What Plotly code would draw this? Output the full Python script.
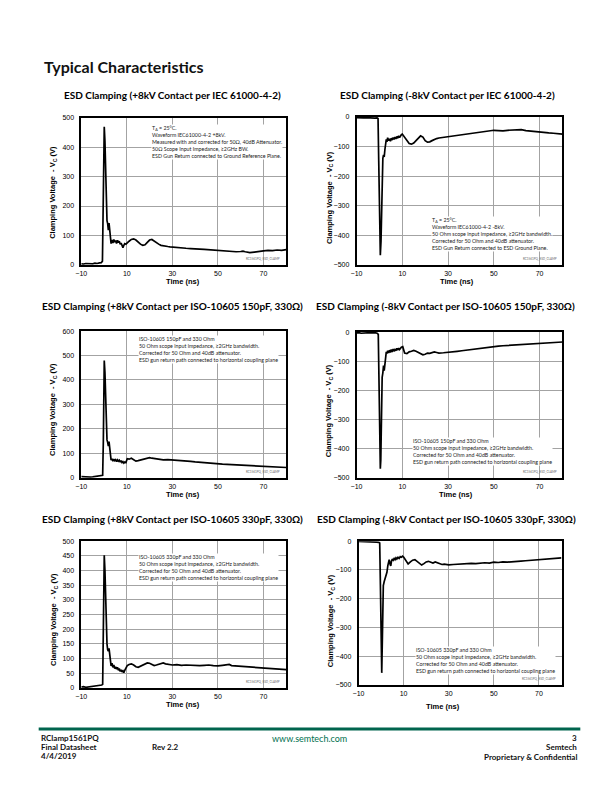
import plotly.graph_objects as go

# ---------------- data ----------------
x_ticks = [-10, 10, 30, 50, 70]

# Panel 1: +8kV IEC 61000-4-2
p1_time = [-10, -9, -8, -7, -6, -5, -4, -3, -2, -1.2,
           -0.7, -0.4, -0.2, 0.1, 0.4, 0.7, 1.0, 1.3, 1.6, 1.9,
           2.2, 2.5, 2.8, 3.1, 3.5, 3.9, 4.3, 4.7, 5.1, 5.5,
           5.9, 6.3, 6.7, 7.1, 7.5, 7.9, 8.3, 8.7, 9.1, 9.6,
           10.2, 11, 12, 13, 14, 15, 16, 17, 18, 19,
           20, 21, 22, 23, 24, 25, 26, 27, 28, 29,
           30, 32, 34, 36, 38, 40, 42, 44, 46, 48,
           50, 52, 54, 56, 58, 60, 61, 62, 63, 64,
           66, 68, 70, 72, 74, 76, 78, 80]
p1_volt = [3, 2, 4, 3, 4, 3, 5, 4, 6, 7,
           12, 170, 360, 470, 420, 300, 200, 150, 140, 118,
           142, 105, 80, 72, 84, 74, 86, 77, 82, 72,
           83, 75, 80, 70, 74, 64, 58, 66, 72, 70,
           76, 80, 86, 88, 84, 76, 70, 66, 68, 76,
           84, 86, 80, 74, 70, 66, 64, 63, 62, 61,
           60, 59, 57, 56, 55, 55, 53, 52, 51, 50,
           49, 46, 45, 45, 44, 45, 46, 44, 43, 41,
           43, 44, 47, 49, 48, 50, 49, 51]
p1_yticks = [0, 100, 200, 300, 400, 500]

# Panel 2: -8kV IEC 61000-4-2
p2_time = [-10, -9, -8, -7, -6, -5, -4, -3, -2, -1,
           -0.6, -0.3, 0.0, 0.4, 0.7, 1.0, 1.2, 1.5, 1.8, 2.1,
           2.4, 2.7, 3.0, 3.3, 3.6, 4.0, 4.4, 4.8, 5.2, 5.6,
           6.0, 6.4, 6.8, 7.2, 7.6, 8.0, 8.4, 8.8, 9.2, 9.6,
           10, 11, 12, 13, 14, 15, 16, 17, 18, 19,
           20, 21, 22, 23, 24, 25, 26, 28, 30, 32,
           34, 36, 38, 40, 42, 44, 46, 48, 50, 52,
           54, 56, 58, 60, 62, 64, 66, 68, 70, 72,
           74, 76, 78, 80]
p2_volt = [-2, -3, -2, -3, -2, -3, -2, -3, -4, -3,
           -5, -150, -380, -468, -420, -250, -160, -140, -128, -135,
           -110, -80, -76, -84, -70, -80, -74, -82, -72, -78,
           -70, -76, -68, -74, -66, -72, -64, -70, -62, -60,
           -58, -70, -82, -90, -92, -88, -80, -70, -64, -68,
           -80, -85, -84, -80, -76, -73, -71, -69, -66, -64,
           -62, -60, -58, -55, -53, -51, -49, -47, -45, -46,
           -47, -45, -44, -45, -43, -46, -48, -50, -52, -53,
           -54, -55, -57, -58]
neg_yticks = [-500, -400, -300, -200, -100, 0]

# Panel 3: +8kV ISO-10605 150pF, 330 Ohm
p3_time = [-10, -9, -8, -7, -6, -5, -4, -3, -2, -1,
           -0.6, -0.3, -0.1, 0.1, 0.4, 0.7, 1.0, 1.3, 1.6, 1.9,
           2.2, 2.5, 2.8, 3.1, 3.5, 3.9, 4.3, 4.7, 5.1, 5.5,
           5.9, 6.3, 6.7, 7.1, 7.5, 7.9, 8.3, 8.7, 9.1, 9.6,
           10.2, 11, 12, 13, 14, 15, 16, 17, 18, 19,
           20, 21, 22, 23, 24, 25, 26, 28, 30, 32,
           34, 36, 38, 40, 42, 44, 46, 48, 50, 52,
           54, 56, 58, 60, 62, 64, 66, 68, 70, 72,
           74, 76, 78, 80]
p3_volt = [5, 4, 3, 4, 3, 4, 5, 6, 7, 8,
           10, 150, 330, 480, 430, 300, 190, 155, 145, 130,
           148, 112, 85, 72, 78, 68, 76, 70, 74, 66,
           73, 68, 72, 64, 70, 62, 66, 60, 64, 62,
           78, 76, 80, 74, 68, 70, 72, 74, 76, 80,
           82, 80, 78, 76, 75, 74, 73, 74, 73, 72,
           70, 68, 67, 65, 63, 62, 60, 58, 56, 56,
           55, 54, 53, 52, 52, 50, 49, 48, 47, 47,
           46, 45, 43, 42]
p3_yticks = [0, 100, 200, 300, 400, 500, 600]

# Panel 4: -8kV ISO-10605 150pF, 330 Ohm
p4_time = [-10, -9, -8, -7, -6, -5, -4, -3, -2, -1,
           -0.5, -0.2, 0.1, 0.4, 0.6, 0.9, 1.2, 1.5, 1.8, 2.1,
           2.4, 2.7, 3.0, 3.3, 3.6, 4.0, 4.4, 4.8, 5.2, 5.6,
           6.0, 6.4, 6.8, 7.2, 7.6, 8.0, 8.4, 8.8, 9.2, 9.6,
           10.2, 11, 12, 13, 14, 15, 16, 17, 18, 19,
           20, 21, 22, 23, 24, 25, 26, 28, 30, 32,
           34, 36, 38, 40, 42, 44, 46, 48, 50, 52,
           54, 56, 58, 60, 62, 64, 66, 68, 70, 72,
           74, 76, 78, 80]
p4_volt = [-3, -2, -4, -3, -2, -3, -2, -3, -2, -4,
           -8, -160, -380, -469, -440, -250, -155, -140, -115, -132,
           -100, -76, -68, -74, -64, -72, -62, -70, -60, -68,
           -58, -66, -60, -64, -56, -62, -55, -60, -54, -52,
           -50, -72, -74, -68, -66, -63, -66, -70, -74, -78,
           -76, -72, -73, -70, -68, -70, -72, -71, -70, -69,
           -66, -64, -62, -58, -57, -55, -54, -52, -50, -48,
           -47, -46, -45, -44, -43, -42, -42, -40, -39, -38,
           -37, -36, -35, -34]

# Panel 5: +8kV ISO-10605 330pF, 330 Ohm
p5_time = [-10, -9, -8, -7, -6, -5, -4, -3, -2, -1,
           -0.6, -0.3, -0.1, 0.1, 0.4, 0.7, 1.0, 1.3, 1.6, 1.9,
           2.2, 2.5, 2.8, 3.1, 3.5, 3.9, 4.3, 4.7, 5.1, 5.5,
           5.9, 6.3, 6.7, 7.1, 7.5, 7.9, 8.3, 8.7, 9.1, 9.6,
           10.2, 11, 12, 13, 14, 15, 16, 17, 18, 19,
           20, 21, 22, 23, 24, 25, 26, 27, 28, 30,
           32, 34, 36, 38, 40, 42, 44, 46, 48, 50,
           52, 54, 55, 56, 58, 60, 62, 64, 66, 68,
           70, 72, 74, 76, 78, 80]
p5_volt = [3, 4, 2, 3, 5, 4, 6, 7, 8, 10,
           12, 190, 360, 452, 400, 280, 165, 150, 130, 125,
           135, 112, 80, 75, 84, 70, 78, 66, 72, 64,
           70, 60, 66, 56, 62, 54, 58, 52, 60, 66,
           76, 80, 82, 78, 72, 70, 74, 78, 82, 85,
           84, 80, 76, 78, 80, 84, 85, 82, 80, 78,
           79, 77, 78, 77, 78, 76, 77, 78, 76, 75,
           77, 78, 80, 76, 75, 74, 73, 72, 71, 70,
           69, 68, 67, 66, 64, 62]
p5_yticks = [0, 50, 100, 150, 200, 250, 300, 350, 400, 450, 500]

# Panel 6: -8kV ISO-10605 330pF, 330 Ohm
p6_time = [-10, -9, -8, -7, -6, -5, -4, -3, -2, -1,
           -0.6, -0.3, 0.0, 0.3, 0.6, 1.0, 1.4, 1.8, 2.2, 2.6,
           3.0, 3.3, 3.6, 4.0, 4.3, 4.6, 5.0, 5.4, 5.8, 6.2,
           6.6, 7.0, 7.5, 8.0, 8.5, 9.0, 9.5, 10, 11, 12,
           13, 14, 15, 16, 17, 18, 19, 20, 21, 22,
           23, 24, 25, 26, 27, 28, 30, 32, 34, 36,
           38, 40, 42, 44, 46, 48, 50, 52, 54, 56,
           58, 60, 62, 64, 66, 68, 70, 72, 74, 76,
           78, 80]
p6_volt = [-1, -1, -2, -1, -2, -2, -3, -2, -3, -4,
           -6, -150, -380, -458, -330, -154, -140, -131, -118, -108,
           -85, -70, -64, -80, -86, -70, -62, -66, -60, -64,
           -58, -62, -56, -60, -54, -56, -52, -55, -68, -79,
           -72, -66, -64, -70, -78, -83, -78, -72, -70, -73,
           -76, -72, -75, -78, -81, -80, -82, -81, -80, -78,
           -79, -77, -78, -76, -75, -76, -73, -74, -72, -73,
           -71, -70, -69, -68, -67, -66, -64, -63, -62, -61,
           -60, -58]

titles = ["ESD Clamping (+8kV Contact per IEC 61000-4-2)",
          "ESD Clamping (-8kV Contact per IEC 61000-4-2)",
          "ESD Clamping (+8kV Contact per ISO-10605 150pF, 330\u03a9)",
          "ESD Clamping (-8kV Contact per ISO-10605 150pF, 330\u03a9)",
          "ESD Clamping (+8kV Contact per ISO-10605 330pF, 330\u03a9)",
          "ESD Clamping (-8kV Contact per ISO-10605 330pF, 330\u03a9)"]

notes = [
    "T<sub>A</sub> = 25\u00b0C.<br>Waveform IEC61000-4-2 +8kV.<br>Measured with and corrected for 50\u03a9, 40dB Attenuator.<br>50\u03a9 Scope Input Impedance, \u22652GHz BW.<br>ESD Gun Return connected to Ground Reference Plane.",
    "T<sub>A</sub> = 25\u00b0C.<br>Waveform IEC61000-4-2 -8kV.<br>50 Ohm scope input impedance, \u22652GHz bandwidth.<br>Corrected for 50 Ohm and 40dB attenuator.<br>ESD Gun Return connected to ESD Ground Plane.",
    "ISO-10605 150pF and 330 Ohm<br>50 Ohm scope input impedance, \u22652GHz bandwidth.<br>Corrected for 50 Ohm and 40dB attenuator.<br>ESD gun return path connected to horizontal coupling plane",
    "ISO-10605 150pF and 330 Ohm<br>50 Ohm scope input impedance, \u22652GHz bandwidth.<br>Corrected for 50 Ohm and 40dB attenuator.<br>ESD gun return path connected to horizontal coupling plane",
    "ISO-10605 330pF and 330 Ohm<br>50 Ohm scope input impedance, \u22652GHz bandwidth.<br>Corrected for 50 Ohm and 40dB attenuator.<br>ESD gun return path connected to horizontal coupling plane",
    "ISO-10605 330pF and 330 Ohm<br>50 Ohm scope input impedance, \u22652GHz bandwidth.<br>Corrected for 50 Ohm and 40dB attenuator.<br>ESD gun return path connected to horizontal coupling plane",
]

x_title = "Time (ns)"
y_title = "Clamping Voltage  - V<sub>C</sub> (V)"

# ---------------- layout ----------------
W, H = 612, 792
def fx(x): return x / W
def fy(y): return 1 - y / H

panels = [
    dict(t=p1_time, v=p1_volt, box=(76, 115, 283, 263), yr=(0, 500), yt=p1_yticks,
         title=(168, 92), xt=(179, 280), ytl=(48, 190), note=(146, 121.5)),
    dict(t=p2_time, v=p2_volt, box=(354, 114, 562, 263), yr=(-500, 0), yt=neg_yticks,
         title=(446, 92), xt=(455, 280), ytl=(327, 195), note=(429, 213.5)),
    dict(t=p3_time, v=p3_volt, box=(76, 330, 283, 478), yr=(0, 600), yt=p3_yticks,
         title=(168, 305), xt=(179, 494.5), ytl=(48, 409), note=(133, 334)),
    dict(t=p4_time, v=p4_volt, box=(354, 331, 562, 478), yr=(-500, 0), yt=neg_yticks,
         title=(444, 305), xt=(454, 494.5), ytl=(327, 410), note=(410, 437)),
    dict(t=p5_time, v=p5_volt, box=(76, 542, 283, 690), yr=(0, 500), yt=p5_yticks,
         title=(168, 520), xt=(179, 707), ytl=(48, 621), note=(133, 553.5)),
    dict(t=p6_time, v=p6_volt, box=(356, 542, 561, 687), yr=(-500, 0), yt=neg_yticks,
         title=(445, 520), xt=(441, 709), ytl=(328, 622), note=(413, 647.5)),
]

fig = go.Figure()
annotations = []
layout_axes = {}
tick_font = dict(family="Liberation Sans, Arial", size=7, color="#000")
bold = dict(family="Lato", size=10, color="#000", weight="bold")

for i, p in enumerate(panels, start=1):
    assert len(p["t"]) == len(p["v"]), i
    xa = "x" if i == 1 else f"x{i}"
    ya = "y" if i == 1 else f"y{i}"
    x0, y0, x1, y1 = p["box"]
    fig.add_trace(go.Scatter(x=p["t"], y=p["v"], mode="lines",
                             line=dict(color="#000", width=1.7),
                             xaxis=xa, yaxis=ya, showlegend=False, hoverinfo="skip"))
    common = dict(showline=True, mirror=True, linecolor="#000", linewidth=1.5,
                  showgrid=True, gridcolor="#a3a3a3", gridwidth=1, zeroline=False,
                  ticks="", tickfont=tick_font, fixedrange=True)
    layout_axes["xaxis" if i == 1 else f"xaxis{i}"] = dict(
        domain=[fx(x0), fx(x1)], range=[-10, 80], tickmode="array",
        tickvals=x_ticks, anchor=ya, ticklabelstandoff=1, **common)
    layout_axes["yaxis" if i == 1 else f"yaxis{i}"] = dict(
        domain=[fy(y1), fy(y0)], range=list(p["yr"]), tickmode="array",
        tickvals=p["yt"], anchor=xa, ticklabelstandoff=4, **common)
    # titles
    annotations.append(dict(text=titles[i - 1], x=fx(p["title"][0]), y=fy(p["title"][1]),
                            xref="paper", yref="paper", xanchor="center", yanchor="middle",
                            showarrow=False, font=bold))
    annotations.append(dict(text=f"<b>{x_title}</b>", x=fx(p["xt"][0]), y=fy(p["xt"][1]),
                            xref="paper", yref="paper", xanchor="center", yanchor="middle",
                            showarrow=False, font=dict(family="Liberation Sans, Arial", size=7.5, color="#000")))
    annotations.append(dict(text=f"<b>{y_title}</b>", x=fx(p["ytl"][0]), y=fy(p["ytl"][1]),
                            xref="paper", yref="paper", xanchor="center", yanchor="middle",
                            textangle=-90, showarrow=False,
                            font=dict(family="Liberation Sans, Arial", size=7.5, color="#000")))
    annotations.append(dict(text=notes[i - 1], x=fx(p["note"][0]), y=fy(p["note"][1]),
                            xref="paper", yref="paper", xanchor="left", yanchor="top",
                            align="left", showarrow=False, bgcolor="#fff", borderpad=0,
                            font=dict(family="Lato", size=5.3, color="#222")))
    annotations.append(dict(text="RC1561PQ_ESD_CLAMP", x=fx(x1 - 4), y=fy(y1 - 6),
                            xref="paper", yref="paper", xanchor="right", yanchor="middle",
                            showarrow=False, font=dict(family="Lato", size=3, color="#666")))

# page title
annotations.append(dict(text="Typical Characteristics", x=fx(36), y=fy(63), xref="paper", yref="paper",
                        xanchor="left", yanchor="middle", showarrow=False,
                        font=dict(family="Lato", size=16, color="#111", weight="bold")))

# footer
foot = dict(family="Lato", size=8, color="#111", weight="bold")
for txt, x, y, anc in [("RClamp1561PQ", 33, 741, "left"), ("Final Datasheet", 33, 750, "left"),
                       ("4/4/2019", 33, 759, "left"), ("Rev 2.2", 145, 750, "left"),
                       ("3", 579, 741, "right"), ("Semtech", 579, 750, "right"),
                       ("Proprietary &amp; Confidential", 579, 760, "right")]:
    annotations.append(dict(text=txt, x=fx(x), y=fy(y), xref="paper", yref="paper",
                            xanchor=anc, yanchor="middle", showarrow=False, font=foot))
annotations.append(dict(text="www.semtech.com", x=fx(306), y=fy(741), xref="paper", yref="paper",
                        xanchor="center", yanchor="middle", showarrow=False,
                        font=dict(family="Lato", size=9, color="#00704F")))

fig.update_layout(
    width=W, height=H, margin=dict(l=0, r=0, t=0, b=0),
    paper_bgcolor="#fff", plot_bgcolor="#fff",
    annotations=annotations,
    shapes=[dict(type="line", xref="paper", yref="paper", x0=fx(33), x1=fx(580),
                 y0=fy(731.5), y1=fy(731.5), line=dict(color="#00654E", width=3))],
    **layout_axes,
)

fig.write_html("out.html", config={"displayModeBar": False},
               post_script="document.body.style.margin='0';document.body.style.padding='0';")
